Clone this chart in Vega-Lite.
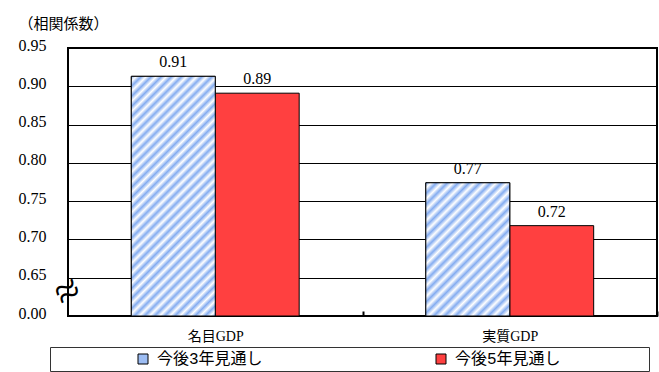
{
  "$schema": "https://vega.github.io/schema/vega-lite/v6.json",
  "width": 589,
  "height": 268,
  "autosize": {"type": "none"},
  "padding": {"left": 68, "top": 48, "right": 2, "bottom": 56},
  "background": "white",
  "config": {"view": {"stroke": "#000", "strokeWidth": 2}, "font": "Liberation Serif"},
  "data": {"values": [
    {"category": "名目GDP", "period": "今後3年見通し", "value": 0.913},
    {"category": "名目GDP", "period": "今後5年見通し", "value": 0.891},
    {"category": "実質GDP", "period": "今後3年見通し", "value": 0.774},
    {"category": "実質GDP", "period": "今後5年見通し", "value": 0.718}
  ]},
  "encoding": {
    "x": {"field": "category", "type": "nominal", "sort": ["名目GDP", "実質GDP"],
      "scale": {"paddingInner": 0.43, "paddingOuter": 0.215},
      "axis": {"title": null, "labelAngle": 0, "labelFont": "Liberation Serif, Noto Sans CJK JP", "labelFontSize": 14, "labelColor": "#000", "labelPadding": 18, "domain": false, "ticks": true, "tickOffset": 147.25, "labelOffset": -147.25, "tickSize": -5, "tickWidth": 2, "tickColor": "#000", "grid": false, "zindex": 1}},
    "xOffset": {"field": "period", "type": "nominal", "sort": ["今後3年見通し", "今後5年見通し"], "scale": {"paddingInner": 0, "paddingOuter": 0}},
    "y": {"field": "value", "type": "quantitative",
      "scale": {"domain": [0.6, 0.95], "zero": false, "nice": false, "clamp": true},
      "axis": {
        "values": [0.6, 0.63, 0.65, 0.7, 0.75, 0.8, 0.85, 0.9, 0.95],
        "labelExpr": "datum.value < 0.61 ? '0.00' : (datum.value < 0.64 ? '≈' : format(datum.value, '.2f'))",
        "title": "（相関係数）", "titleAngle": 0, "titleAlign": "left", "titleBaseline": "middle", "titleX": -50, "titleY": -25,
        "titleFont": "Noto Sans CJK JP", "titleFontSize": 15, "titleFontWeight": "normal", "titleColor": "#000",
        "domain": false, "ticks": false, "tickSize": 0,
        "labelPadding": {"condition": {"test": "datum.value > 0.62 && datum.value < 0.64", "value": -6}, "value": 22},
        "labelAlign": {"condition": {"test": "datum.value > 0.62 && datum.value < 0.64", "value": "center"}, "value": "right"},
        "labelOffset": {"condition": {"test": "datum.value > 0.62 && datum.value < 0.64", "value": 10}, "value": 2},
        "labelFontSize": {"expr": "datum.value > 0.62 && datum.value < 0.64 ? 44 : 16"},
        "labelAngle": {"expr": "datum.value > 0.62 && datum.value < 0.64 ? -30 : 0"},
        "labelFont": "Liberation Serif, Noto Sans CJK JP", "labelColor": "#000", "labelOverlap": false, "labelFlush": false,
        "grid": true, "gridColor": "#000", "gridWidth": 1,
        "gridOpacity": {"condition": {"test": "datum.value > 0.62 && datum.value < 0.64", "value": 0}, "value": 1}
      }}
  },
  "layer": [
    {"mark": {"type": "bar", "stroke": "#000", "strokeWidth": 1},
     "encoding": {"color": {"field": "period", "type": "nominal", "sort": ["今後3年見通し", "今後5年見通し"],
       "scale": {"range": ["#9dbdf3", "#ff4040"]},
       "legend": {"title": null, "orient": "none", "legendX": -18, "legendY": 299, "direction": "horizontal", "columns": 2,
         "padding": 4, "strokeColor": "#333", "symbolType": "square", "symbolSize": 100, "symbolStrokeColor": "#000", "symbolStrokeWidth": 1,
         "symbolOffset": 81, "labelFont": "Liberation Mono, Noto Sans CJK JP", "labelFontSize": 16, "labelColor": "#000", "labelLimit": 500,
         "labelExpr": "datum.label + '\u2800\u2800\u2800\u2800\u2800\u2800\u2800'", "columnPadding": 5, "labelOffset": 6}}}},
    {"transform": [{"filter": "datum.period === '今後3年見通し'"}],
     "mark": {"type": "bar", "stroke": "#000", "strokeWidth": 1},
     "encoding": {"fill": {
       "condition": {"test": "datum.category === '名目GDP'", "value": {"gradient": "linear", "x1": 0, "y1": 0, "x2": 0.4209, "y2": 1.2027, "stops": [
         {"offset": 0, "color": "#84acf0"}, {"offset": 0.015625, "color": "#ffffff"}, {"offset": 0.03125, "color": "#84acf0"}, {"offset": 0.046875, "color": "#ffffff"},
         {"offset": 0.0625, "color": "#84acf0"}, {"offset": 0.078125, "color": "#ffffff"}, {"offset": 0.09375, "color": "#84acf0"}, {"offset": 0.109375, "color": "#ffffff"},
         {"offset": 0.125, "color": "#84acf0"}, {"offset": 0.140625, "color": "#ffffff"}, {"offset": 0.15625, "color": "#84acf0"}, {"offset": 0.171875, "color": "#ffffff"},
         {"offset": 0.1875, "color": "#84acf0"}, {"offset": 0.203125, "color": "#ffffff"}, {"offset": 0.21875, "color": "#84acf0"}, {"offset": 0.234375, "color": "#ffffff"},
         {"offset": 0.25, "color": "#84acf0"}, {"offset": 0.265625, "color": "#ffffff"}, {"offset": 0.28125, "color": "#84acf0"}, {"offset": 0.296875, "color": "#ffffff"},
         {"offset": 0.3125, "color": "#84acf0"}, {"offset": 0.328125, "color": "#ffffff"}, {"offset": 0.34375, "color": "#84acf0"}, {"offset": 0.359375, "color": "#ffffff"},
         {"offset": 0.375, "color": "#84acf0"}, {"offset": 0.390625, "color": "#ffffff"}, {"offset": 0.40625, "color": "#84acf0"}, {"offset": 0.421875, "color": "#ffffff"},
         {"offset": 0.4375, "color": "#84acf0"}, {"offset": 0.453125, "color": "#ffffff"}, {"offset": 0.46875, "color": "#84acf0"}, {"offset": 0.484375, "color": "#ffffff"},
         {"offset": 0.5, "color": "#84acf0"}, {"offset": 0.515625, "color": "#ffffff"}, {"offset": 0.53125, "color": "#84acf0"}, {"offset": 0.546875, "color": "#ffffff"},
         {"offset": 0.5625, "color": "#84acf0"}, {"offset": 0.578125, "color": "#ffffff"}, {"offset": 0.59375, "color": "#84acf0"}, {"offset": 0.609375, "color": "#ffffff"},
         {"offset": 0.625, "color": "#84acf0"}, {"offset": 0.640625, "color": "#ffffff"}, {"offset": 0.65625, "color": "#84acf0"}, {"offset": 0.671875, "color": "#ffffff"},
         {"offset": 0.6875, "color": "#84acf0"}, {"offset": 0.703125, "color": "#ffffff"}, {"offset": 0.71875, "color": "#84acf0"}, {"offset": 0.734375, "color": "#ffffff"},
         {"offset": 0.75, "color": "#84acf0"}, {"offset": 0.765625, "color": "#ffffff"}, {"offset": 0.78125, "color": "#84acf0"}, {"offset": 0.796875, "color": "#ffffff"},
         {"offset": 0.8125, "color": "#84acf0"}, {"offset": 0.828125, "color": "#ffffff"}, {"offset": 0.84375, "color": "#84acf0"}, {"offset": 0.859375, "color": "#ffffff"},
         {"offset": 0.875, "color": "#84acf0"}, {"offset": 0.890625, "color": "#ffffff"}, {"offset": 0.90625, "color": "#84acf0"}, {"offset": 0.921875, "color": "#ffffff"},
         {"offset": 0.9375, "color": "#84acf0"}, {"offset": 0.953125, "color": "#ffffff"}, {"offset": 0.96875, "color": "#84acf0"}, {"offset": 0.984375, "color": "#ffffff"},
         {"offset": 1, "color": "#84acf0"}
       ]}},
       "value": {"gradient": "linear", "x1": 0, "y1": 0, "x2": 0.7357, "y2": 1.1667, "stops": [
         {"offset": 0, "color": "#84acf0"}, {"offset": 0.025, "color": "#ffffff"}, {"offset": 0.05, "color": "#84acf0"}, {"offset": 0.075, "color": "#ffffff"},
         {"offset": 0.1, "color": "#84acf0"}, {"offset": 0.125, "color": "#ffffff"}, {"offset": 0.15, "color": "#84acf0"}, {"offset": 0.175, "color": "#ffffff"},
         {"offset": 0.2, "color": "#84acf0"}, {"offset": 0.225, "color": "#ffffff"}, {"offset": 0.25, "color": "#84acf0"}, {"offset": 0.275, "color": "#ffffff"},
         {"offset": 0.3, "color": "#84acf0"}, {"offset": 0.325, "color": "#ffffff"}, {"offset": 0.35, "color": "#84acf0"}, {"offset": 0.375, "color": "#ffffff"},
         {"offset": 0.4, "color": "#84acf0"}, {"offset": 0.425, "color": "#ffffff"}, {"offset": 0.45, "color": "#84acf0"}, {"offset": 0.475, "color": "#ffffff"},
         {"offset": 0.5, "color": "#84acf0"}, {"offset": 0.525, "color": "#ffffff"}, {"offset": 0.55, "color": "#84acf0"}, {"offset": 0.575, "color": "#ffffff"},
         {"offset": 0.6, "color": "#84acf0"}, {"offset": 0.625, "color": "#ffffff"}, {"offset": 0.65, "color": "#84acf0"}, {"offset": 0.675, "color": "#ffffff"},
         {"offset": 0.7, "color": "#84acf0"}, {"offset": 0.725, "color": "#ffffff"}, {"offset": 0.75, "color": "#84acf0"}, {"offset": 0.775, "color": "#ffffff"},
         {"offset": 0.8, "color": "#84acf0"}, {"offset": 0.825, "color": "#ffffff"}, {"offset": 0.85, "color": "#84acf0"}, {"offset": 0.875, "color": "#ffffff"},
         {"offset": 0.9, "color": "#84acf0"}, {"offset": 0.925, "color": "#ffffff"}, {"offset": 0.95, "color": "#84acf0"}, {"offset": 0.975, "color": "#ffffff"},
         {"offset": 1, "color": "#84acf0"}
       ]}
     }}},
    {"mark": {"type": "text", "dy": -9, "baseline": "alphabetic", "fontSize": 16, "font": "Liberation Serif", "color": "#000"},
     "encoding": {"text": {"field": "value", "type": "quantitative", "format": ".2f"}}}
  ]
}
